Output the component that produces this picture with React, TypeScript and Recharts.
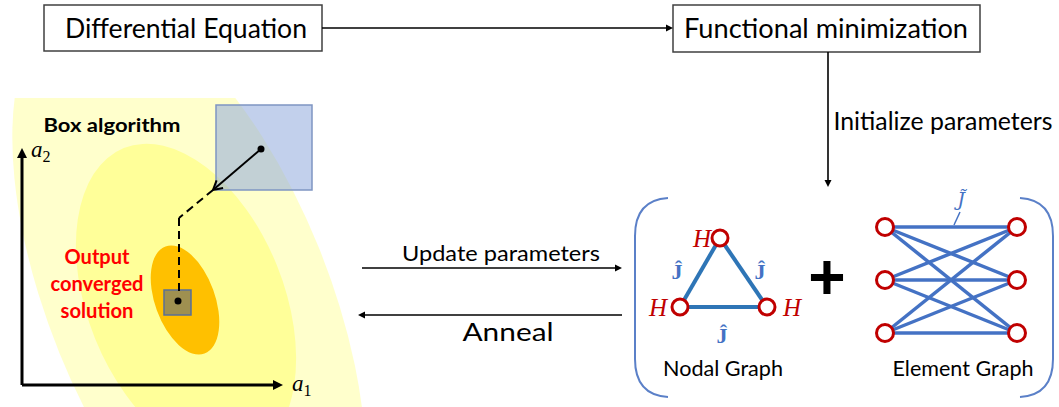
import React from 'react';
import { ComposedChart, XAxis, YAxis, Scatter, ReferenceArea, ReferenceLine } from 'recharts';

const W = 1059;
const H = 407;

const SANS = "Lato, 'Open Sans', sans-serif";
const SERIF = "'Liberation Serif', 'DejaVu Serif', serif";

// ---- flow chart boxes (diagram units = px) ----
const boxTitles = ['Differential Equation', 'Functional minimization'];
const boxX1 = [44, 673];
const boxX2 = [322, 980];
const boxY1 = [5, 5];
const boxY2 = [51, 52];

// ---- box algorithm panel: tilted regions ----
const regionNames = ['feasible', 'basin', 'converged'];
const regionX = [189, 186, 185];
const regionY = [300, 302, 300];
const regionMajor = [320, 166, 57];
const regionMinor = [140, 98, 30];
const regionTilt = [22, 22, 20];
const regionFill = ['#FFFFCC', '#FFFF99', '#FFC000'];

const searchBoxes = [
  { x1: 216, x2: 312, y1: 105, y2: 190 },
  { x1: 164, x2: 191, y1: 290, y2: 315 },
];
const searchDots = [
  { x: 261, y: 149 },
  { x: 178, y: 301 },
];
const stepPath = [
  { x: 261, y: 149 },
  { x: 213, y: 190 },
];
const dashedPath = [
  { x: 213, y: 190 },
  { x: 179, y: 218 },
  { x: 179, y: 294 },
];

// ---- arrows ----
const flowArrows = [
  { from: [322, 28], to: [673, 28] },
  { from: [828, 52], to: [828, 187] },
  { from: [362, 268], to: [622, 268] },
  { from: [622, 315], to: [358, 315] },
];
const axisArrows = [
  { from: [22, 385], to: [22, 148] },
  { from: [22, 385], to: [283, 385] },
];

// ---- graphs ----
const nodalNodes = [
  { x: 720, y: 238 },
  { x: 680, y: 307 },
  { x: 767, y: 307 },
];
const nodalEdges = [
  [0, 1],
  [0, 2],
  [1, 2],
];
const elementLeft = [
  { x: 885, y: 227 },
  { x: 885, y: 280 },
  { x: 885, y: 333 },
];
const elementRight = [
  { x: 1017, y: 227 },
  { x: 1017, y: 280 },
  { x: 1017, y: 333 },
];
const brackets = [
  { side: 'left', x1: 635, x2: 668, y1: 198, y2: 397 },
  { side: 'right', x1: 1020, x2: 1053, y1: 198, y2: 397 },
];

// ---- labels ----
const plainLabels = [
  { text: 'Differential Equation', x: 186, y: 28, w: 242, size: 26 },
  { text: 'Functional minimization', x: 826, y: 28, w: 284, size: 26 },
  { text: 'Initialize parameters', x: 943, y: 120, w: 219, size: 25 },
  { text: 'Update parameters', x: 501, y: 252, w: 198, size: 22 },
  { text: 'Anneal', x: 508, y: 331, w: 91, size: 25 },
  { text: 'Nodal Graph', x: 723, y: 367, w: 120, size: 22 },
  { text: 'Element Graph', x: 963, y: 367, w: 141, size: 22 },
];
const boldLabels = [{ text: 'Box algorithm', x: 112, y: 124, w: 137, size: 19 }];
const outputLines = ['Output', 'converged', 'solution'];
const outputY = [256, 283, 310];
const outputW = [65, 93, 73];
const axisLabels = [
  { base: 'a', sub: '2', x: 31, y: 157 },
  { base: 'a', sub: '1', x: 292, y: 391 },
];
const fieldLabels = [
  { text: 'H', x: 702, y: 238 },
  { text: 'H', x: 658, y: 307 },
  { text: 'H', x: 792, y: 307 },
];
const couplingLabels = [
  { text: 'Ĵ', x: 677, y: 271 },
  { text: 'Ĵ', x: 760, y: 271 },
  { text: 'Ĵ', x: 722, y: 335 },
];
const elementCoupling = [{ text: 'J̃', x: 961, y: 199 }];
const plusLabel = [{ text: '+', x: 827, y: 277 }];

const headPoints = (x1: number, y1: number, x2: number, y2: number, len: number, half: number) => {
  const L = Math.hypot(x2 - x1, y2 - y1) || 1;
  const ux = (x2 - x1) / L;
  const uy = (y2 - y1) / L;
  const bx = x2 - ux * len;
  const by = y2 - uy * len;
  return {
    bx,
    by,
    p1: [bx - uy * half, by + ux * half],
    p2: [bx + uy * half, by - ux * half],
  };
};

const arrowShape = (len: number, half: number, width: number, open = false) => (p: any) => {
  const { x1, y1, x2, y2 } = p;
  const h = headPoints(x1, y1, x2, y2, len, half);
  if (open) {
    return (
      <g>
        <line x1={x1} y1={y1} x2={x2} y2={y2} stroke="#000" strokeWidth={width} />
        <polyline
          points={`${h.p1[0]},${h.p1[1]} ${x2},${y2} ${h.p2[0]},${h.p2[1]}`}
          fill="none"
          stroke="#000"
          strokeWidth={width}
        />
      </g>
    );
  }
  return (
    <g>
      <line x1={x1} y1={y1} x2={h.bx} y2={h.by} stroke="#000" strokeWidth={width} />
      <polygon points={`${x2},${y2} ${h.p1[0]},${h.p1[1]} ${h.p2[0]},${h.p2[1]}`} fill="#000" />
    </g>
  );
};

// ellipse drawn inside its (unrotated) bounding box, then tilted about the centre
const regionShape = (i: number) => (p: any) => {
  const cx = p.x + p.width / 2;
  const cy = p.y + p.height / 2;
  return (
    <g clipPath={i === 0 ? 'url(#panelClip)' : undefined}>
      <ellipse
        cx={cx}
        cy={cy}
        rx={p.width / 2}
        ry={p.height / 2}
        fill={regionFill[i]}
        transform={`rotate(${-regionTilt[i]} ${cx} ${cy})`}
      />
    </g>
  );
};

const textShape = (style: any) => (p: any) => (
  <text
    x={p.cx}
    y={p.cy}
    textAnchor="middle"
    dominantBaseline="central"
    {...style}
    fontSize={p.payload.size ?? style.fontSize}
    textLength={p.payload.w}
    lengthAdjust={p.payload.w ? 'spacingAndGlyphs' : undefined}
  >
    {p.payload.text}
  </text>
);

const nodeShape = (r: number) => (p: any) => (
  <circle cx={p.cx} cy={p.cy} r={r} fill="#fff" stroke="#C00000" strokeWidth={3} />
);

const dotShape = (p: any) => <circle cx={p.cx} cy={p.cy} r={3.5} fill="#000" />;

const bracketShape = (side: string) => (p: any) => {
  const { x, y, width: w, height: h } = p;
  const d =
    side === 'left'
      ? `M${x + w},${y} Q${x},${y + 2} ${x},${y + 38} L${x},${y + h - 38} Q${x},${y + h - 2} ${x + w},${y + h}`
      : `M${x},${y} Q${x + w},${y + 2} ${x + w},${y + 38} L${x + w},${y + h - 38} Q${x + w},${y + h - 2} ${x},${y + h}`;
  return <path d={d} fill="none" stroke="#5B80C8" strokeWidth={2} />;
};

const clipShape = (p: any) => (
  <defs>
    <clipPath id="panelClip">
      <rect x={p.x} y={p.y} width={p.width} height={p.height} />
    </clipPath>
  </defs>
);

const axisLabelShape = (p: any) => (
  <text x={p.cx} y={p.cy} fontFamily={SERIF} fontStyle="italic" fontSize={23} fill="#000">
    {p.payload.base}
    <tspan fontStyle="normal" fontSize={16} dy={5}>
      {p.payload.sub}
    </tspan>
  </text>
);

export default function App() {
  const outputData = outputLines.map((text, i) => ({ text, x: 97, y: outputY[i], w: outputW[i] }));
  return (
    <div style={{ position: 'absolute', left: 0, top: 0, width: W, height: H, background: '#fff' }}>
      <ComposedChart width={W} height={H} margin={{ top: 0, right: 0, bottom: 0, left: 0 }}>
        <XAxis type="number" dataKey="x" domain={[0, W]} allowDataOverflow hide />
        <YAxis type="number" dataKey="y" domain={[0, H]} allowDataOverflow reversed hide />

        <ReferenceArea x1={0} x2={520} y1={98} y2={H} shape={clipShape} ifOverflow="visible" />
        {regionNames.map((name, i) => (
          <ReferenceArea
            key={name}
            x1={regionX[i] - regionMinor[i]}
            x2={regionX[i] + regionMinor[i]}
            y1={regionY[i] - regionMajor[i]}
            y2={regionY[i] + regionMajor[i]}
            shape={regionShape(i)}
            ifOverflow="visible"
          />
        ))}

        {searchBoxes.map((b, i) => (
          <ReferenceArea
            key={`sb${i}`}
            x1={b.x1}
            x2={b.x2}
            y1={b.y1}
            y2={b.y2}
            fill={i === 0 ? '#8FAADC' : '#3F5F9F'}
            fillOpacity={i === 0 ? 0.55 : 0.5}
            stroke={i === 0 ? '#7F95C2' : '#5A6F96'}
            strokeWidth={1.5}
            ifOverflow="visible"
          />
        ))}

        {boxTitles.map((t, i) => (
          <ReferenceArea
            key={t}
            x1={boxX1[i]}
            x2={boxX2[i]}
            y1={boxY1[i]}
            y2={boxY2[i]}
            fill="#fff"
            fillOpacity={1}
            stroke="#404040"
            strokeWidth={1.5}
            ifOverflow="visible"
          />
        ))}

        {brackets.map((b) => (
          <ReferenceArea
            key={b.side}
            x1={b.x1}
            x2={b.x2}
            y1={b.y1}
            y2={b.y2}
            shape={bracketShape(b.side)}
            ifOverflow="visible"
          />
        ))}

        {flowArrows.map((a, i) => (
          <ReferenceLine
            key={`fa${i}`}
            segment={[
              { x: a.from[0], y: a.from[1] },
              { x: a.to[0], y: a.to[1] },
            ]}
            shape={arrowShape(7, 3.5, 1.6)}
            ifOverflow="visible"
          />
        ))}
        {axisArrows.map((a, i) => (
          <ReferenceLine
            key={`aa${i}`}
            segment={[
              { x: a.from[0], y: a.from[1] },
              { x: a.to[0], y: a.to[1] },
            ]}
            shape={arrowShape(10, 5, 3)}
            ifOverflow="visible"
          />
        ))}
        <ReferenceLine segment={stepPath} shape={arrowShape(9, 5, 2, true)} ifOverflow="visible" />
        {dashedPath.slice(1).map((pt, i) => (
          <ReferenceLine
            key={`dp${i}`}
            segment={[dashedPath[i], pt]}
            stroke="#000"
            strokeWidth={2}
            strokeDasharray="8 5"
            ifOverflow="visible"
          />
        ))}
        <Scatter data={searchDots} shape={dotShape} isAnimationActive={false} />

        {nodalEdges.map(([a, b], i) => (
          <ReferenceLine
            key={`ne${i}`}
            segment={[nodalNodes[a], nodalNodes[b]]}
            stroke="#2E75B6"
            strokeWidth={4}
            ifOverflow="visible"
          />
        ))}
        {elementLeft.map((l, i) =>
          elementRight.map((r, j) => (
            <ReferenceLine
              key={`ee${i}${j}`}
              segment={[l, r]}
              stroke="#4472C4"
              strokeWidth={3.5}
              ifOverflow="visible"
            />
          ))
        )}
        <ReferenceLine
          segment={[
            { x: 960, y: 212 },
            { x: 954, y: 225 },
          ]}
          stroke="#4472C4"
          strokeWidth={1.5}
          ifOverflow="visible"
        />
        <Scatter data={nodalNodes} shape={nodeShape(8)} isAnimationActive={false} />
        <Scatter data={[...elementLeft, ...elementRight]} shape={nodeShape(8.5)} isAnimationActive={false} />

        <Scatter data={plainLabels} shape={textShape({ fontFamily: SANS, fill: '#000' })} isAnimationActive={false} />
        <Scatter
          data={boldLabels}
          shape={textShape({ fontFamily: SANS, fontWeight: 'bold', fill: '#000' })}
          isAnimationActive={false}
        />
        <Scatter
          data={outputData}
          shape={textShape({ fontFamily: SANS, fontWeight: 'bold', fill: '#FF0000', fontSize: 20 })}
          isAnimationActive={false}
        />
        <Scatter data={axisLabels} shape={axisLabelShape} isAnimationActive={false} />
        <Scatter
          data={fieldLabels}
          shape={textShape({ fontFamily: SERIF, fontStyle: 'italic', fill: '#C00000', fontSize: 25 })}
          isAnimationActive={false}
        />
        <Scatter
          data={couplingLabels}
          shape={textShape({ fontFamily: SERIF, fontWeight: 'bold', fill: '#4472C4', fontSize: 22 })}
          isAnimationActive={false}
        />
        <Scatter
          data={elementCoupling}
          shape={textShape({ fontFamily: "'DejaVu Serif', serif", fontStyle: 'italic', fill: '#4472C4', fontSize: 19 })}
          isAnimationActive={false}
        />
        <Scatter
          data={plusLabel}
          shape={textShape({ fontFamily: "'Liberation Sans', Arial, sans-serif", fontWeight: 'bold', fill: '#000', fontSize: 64 })}
          isAnimationActive={false}
        />
      </ComposedChart>
    </div>
  );
}
